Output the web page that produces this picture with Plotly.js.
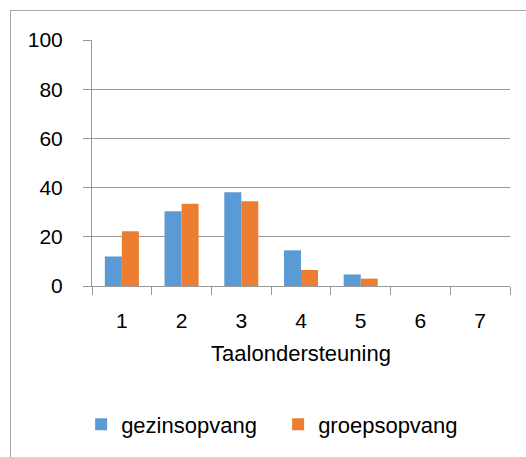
<!DOCTYPE html>
<html>
<head>
<meta charset="utf-8">
<script src="https://cdn.plot.ly/plotly-3.0.1.min.js"></script>
<style>
  html, body { margin: 0; padding: 0; background: #ffffff; overflow: hidden; }
  #wrap { position: relative; width: 526px; height: 457px; overflow: hidden; }
  #chart { width: 526px; height: 457px; }
  #frame { position: absolute; left: 10px; top: 10px; width: 700px; height: 700px;
           border-left: 1px solid #a6a6a6; border-top: 1px solid #a6a6a6; pointer-events: none; }
</style>
</head>
<body>
<div id="wrap">
  <div id="chart"></div>
  <div id="frame"></div>
</div>
<script>
const categories = ['1', '2', '3', '4', '5', '6', '7'];
const gezinsopvang = [12, 30.4, 38.1, 14.5, 4.7, 0, 0];
const groepsopvang = [22.3, 33.4, 34.5, 6.5, 3.0, 0, 0];
const seriesNames = ['gezinsopvang', 'groepsopvang'];
const xTitle = 'Taalondersteuning';
const yTicks = [0, 20, 40, 60, 80, 100];

const font = { family: '"Liberation Sans", Arial, sans-serif', size: 21, color: '#000000' };
const bigFont = { family: '"Liberation Sans", Arial, sans-serif', size: 22, color: '#000000' };

const traces = [
  { type: 'bar', name: seriesNames[0], x: categories, y: gezinsopvang,
    marker: { color: '#5B9BD5', line: { width: 0 } }, hoverinfo: 'none' },
  { type: 'bar', name: seriesNames[1], x: categories, y: groepsopvang,
    marker: { color: '#ED7D31', line: { width: 0 } }, hoverinfo: 'none' }
];

const layout = {
  width: 526, height: 457,
  margin: { l: 92, r: 16, t: 40, b: 171, pad: 0, autoexpand: false },
  paper_bgcolor: '#ffffff', plot_bgcolor: '#ffffff',
  font: font,
  barmode: 'group',
  bargap: 0.43,
  bargroupgap: 0,
  showlegend: true,
  legend: {
    orientation: 'h', x: -0.026, xanchor: 'left', y: -0.477, yanchor: 'top',
    font: bigFont, itemwidth: 30, entrywidth: 152, entrywidthmode: 'pixels',
    bgcolor: 'rgba(0,0,0,0)', traceorder: 'normal'
  },
  xaxis: {
    type: 'category', range: [-0.5, 6.5],
    showline: true, linecolor: '#999999', linewidth: 1,
    ticks: 'outside', tickson: 'boundaries', ticklen: 8, tickcolor: '#999999', tickwidth: 1,
    showgrid: false, zeroline: false, automargin: false,
    tickfont: font, ticklabelstandoff: 16,
    title: { text: xTitle, font: bigFont, standoff: 14 }
  },
  yaxis: {
    range: [0, 100], tickvals: yTicks, ticktext: yTicks.map(String),
    showline: true, linecolor: '#999999', linewidth: 1,
    ticks: 'outside', ticklen: 8, tickcolor: '#999999', tickwidth: 1,
    showgrid: true, gridcolor: '#999999', gridwidth: 1, automargin: false,
    zeroline: false, tickfont: font, ticklabelstandoff: 16
  }
};

Plotly.newPlot('chart', traces, layout, { staticPlot: true, displayModeBar: false });
</script>
</body>
</html>
